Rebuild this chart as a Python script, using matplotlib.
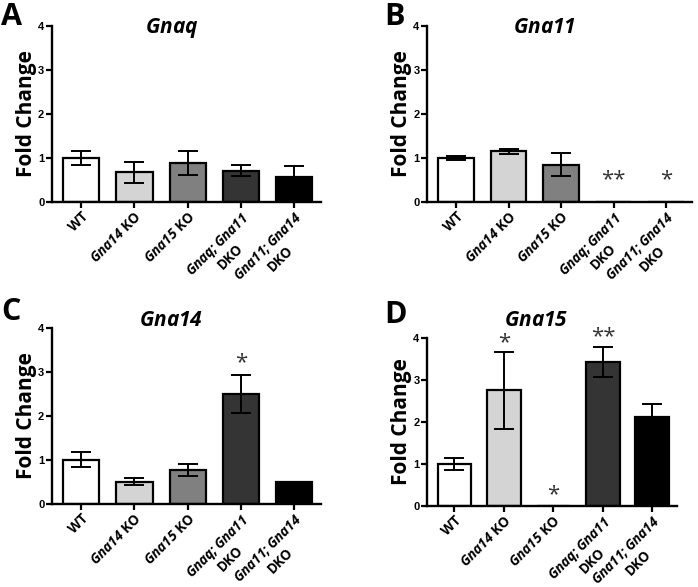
import matplotlib
matplotlib.use("Agg")
import matplotlib.pyplot as plt

plt.rcParams['font.family'] = ['Open Sans', 'DejaVu Sans']
plt.rcParams['font.weight'] = 'bold'
# gene names are italic bold, digits included
plt.rcParams['mathtext.fontset'] = 'custom'
plt.rcParams['mathtext.it'] = 'Open Sans:italic:bold'
plt.rcParams['mathtext.rm'] = 'Open Sans:italic:bold'

# groups (same for every panel)
groups = [r'WT', r'$Gna14$ KO', r'$Gna15$ KO',
          '$Gnaq;Gna11$\nDKO', '$Gna11;Gna14$\nDKO']
bar_colors = ['#ffffff', '#d4d4d4', '#808080', '#343434', '#000000']

# panel data: fold change and error (SEM)
gnaq_vals = [1.00, 0.67, 0.88, 0.71, 0.56]
gnaq_err = [0.15, 0.24, 0.27, 0.12, 0.25]

gna11_vals = [1.00, 1.15, 0.85, 0.0, 0.0]
gna11_err = [0.05, 0.05, 0.27, 0.0, 0.0]

gna14_vals = [1.00, 0.51, 0.77, 2.50, 0.49]
gna14_err = [0.17, 0.07, 0.14, 0.44, 0.0]

gna15_vals = [1.00, 2.76, 0.01, 3.43, 2.12]
gna15_err = [0.15, 0.92, 0.0, 0.36, 0.31]

# significance marks: (group index, y position, text)
gna11_stars = [(3, 0.5, '**'), (4, 0.5, '*')]
gna14_stars = [(3, 3.2, '*')]
gna15_stars = [(1, 3.9, '*'), (2, 0.26, '*'), (3, 4.04, '**')]

W, H = 698, 587
fig = plt.figure(figsize=(W / 100, H / 100), dpi=100)

# letter, title, values, errors, stars, axes rect, letter pos (px), title pos (px)
panels = [
    ('A', 'Gnaq', gnaq_vals, gnaq_err, [], [0.0745, 0.656, 0.385, 0.300], (1, 25), (172, 33)),
    ('B', 'Gna11', gna11_vals, gna11_err, gna11_stars, [0.612, 0.656, 0.380, 0.300], (384, 25), (545, 33)),
    ('C', 'Gna14', gna14_vals, gna14_err, gna14_stars, [0.0745, 0.1414, 0.385, 0.300], (1, 320), (171, 326)),
    ('D', 'Gna15', gna15_vals, gna15_err, gna15_stars, [0.612, 0.138, 0.358, 0.286], (384, 323), (536, 326)),
]

for letter, title, vals, err, stars, rect, lpos, tpos in panels:
    ax = fig.add_axes(rect)
    x = list(range(len(groups)))
    ax.bar(x, vals, width=0.68, color=bar_colors, edgecolor='black', linewidth=1.6, zorder=2)
    ax.errorbar(x, vals, yerr=err, fmt='none', ecolor='black', elinewidth=1.4,
                capsize=7, capthick=1.4, zorder=3)
    for i, y, s in stars:
        ax.text(i, y, s, ha='center', va='center', fontsize=16, fontweight='normal',
                color='#333333', zorder=4)
    ax.set_xlim(-0.55, 4.5)
    ax.set_ylim(0, 4)
    ax.set_yticks([0, 1, 2, 3, 4])
    ax.set_yticklabels(['0', '1', '2', '3', '4'], fontsize=8, family='Liberation Sans',
                       fontweight='bold')
    ax.set_xticks(x)
    ax.set_xticklabels(groups, rotation=45, ha='right', rotation_mode='anchor',
                       fontsize=9.8, multialignment='center')
    for sp in ['top', 'right']:
        ax.spines[sp].set_visible(False)
    for sp in ['left', 'bottom']:
        ax.spines[sp].set_linewidth(1.7)
    ax.tick_params(axis='both', width=1.6, length=4, pad=1.5)
    ax.set_ylabel('Fold Change', fontsize=15, fontweight='bold', labelpad=1)
    fig.text(tpos[0] / W, 1 - tpos[1] / H, '$' + title + '$', fontsize=15,
             ha='center', va='baseline')
    fig.text(lpos[0] / W, 1 - lpos[1] / H, letter, fontsize=22,
             fontweight='bold', ha='left', va='baseline')

fig.savefig('out.png', dpi=100)
